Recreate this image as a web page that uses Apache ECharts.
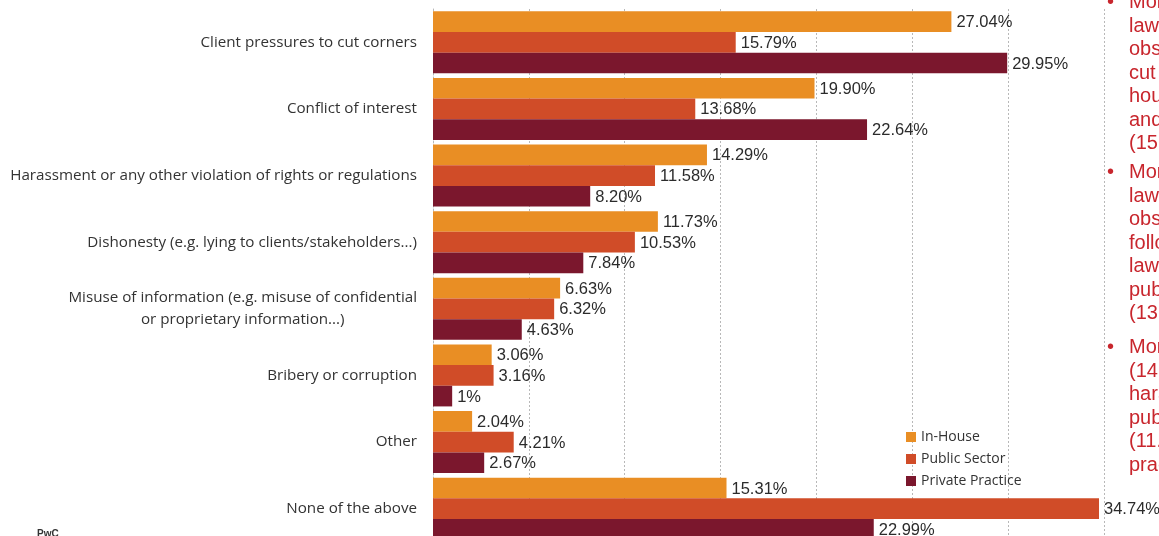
<!DOCTYPE html>
<html>
<head>
<meta charset="utf-8">
<script src="https://cdn.jsdelivr.net/npm/echarts@6/dist/echarts.min.js"></script>
<style>
  html, body { margin: 0; padding: 0; background: #ffffff; }
  #chart { width: 1159px; height: 536px; }
</style>
</head>
<body>
<div id="chart"></div>
<script>
// Ethical issues observed, by sector (% of respondents)
const categories = [
  'Client pressures to cut corners',
  'Conflict of interest',
  'Harassment or any other violation of rights or regulations',
  'Dishonesty (e.g. lying to clients/stakeholders...)',
  'Misuse of information (e.g. misuse of confidential\nor proprietary information...)',
  'Bribery or corruption',
  'Other',
  'None of the above'
];
const seriesNames = ['In-House', 'Public Sector', 'Private Practice'];
const inHouse       = ['27.04', '19.90', '14.29', '11.73', '6.63', '3.06', '2.04', '15.31'];
const publicSector  = ['15.79', '13.68', '11.58', '10.53', '6.32', '3.16', '4.21', '34.74'];
const privatePract  = ['29.95', '22.64', '8.20', '7.84', '4.63', '1', '2.67', '22.99'];
const colors = ['#E98E24', '#D04C28', '#7B172D'];
const xTicks = { min: 0, max: 35, step: 5 };

// Commentary panel on the right-hand side
const notes = [
  ['More private practice', 'lawyers (29.95%)', 'observed client pressures to', 'cut corners than in-', 'house lawyers (27.04%)', 'and public sector lawyers', '(15.79%)'],
  ['More private practice', 'lawyers (22.64%)', 'observed conflicts of interest,', 'followed by in-house', 'lawyers (19.90%) and', 'public sector lawyers', '(13.68%)'],
  ['More in-house lawyers', '(14.29%) observed', 'harassment than those in', 'public sector', '(11.58%) and private', 'practice (8.20%)']
];

const allSeries = [inHouse, publicSector, privatePract];

const chart = echarts.init(document.getElementById('chart'), null, { renderer: 'canvas' });

const series = allSeries.map((vals, i) => ({
  name: seriesNames[i],
  type: 'bar',
  data: vals,
  barGap: '0%',
  barCategoryGap: '7%',
  itemStyle: { color: colors[i] },
  label: {
    show: true,
    position: 'right',
    distance: 5,
    offset: [0, 1],
    color: '#2b2b2b',
    fontFamily: '"Liberation Sans", Arial, sans-serif',
    fontSize: 16.5,
    formatter: p => vals[p.dataIndex] + '%'
  },
  emphasis: { disabled: true }
}));

// Bullet text blocks
const noteFont = '20px "Liberation Sans", Arial, sans-serif';
const graphics = [];
const noteTops = [-9, 161, 336];
notes.forEach((lines, b) => {
  graphics.push({
    type: 'text', left: 1107, top: noteTops[b],
    style: { text: '•', fill: '#C8262D', font: noteFont, lineHeight: 23.5 }
  });
  graphics.push({
    type: 'text', left: 1129, top: noteTops[b],
    style: {
      text: lines.join('\n'),
      fill: '#C8262D',
      font: noteFont,
      lineHeight: 23.5
    }
  });
});
graphics.push({
  type: 'text', left: 37, top: 529,
  style: { text: 'PwC', fill: '#333333', font: 'bold 10px "Liberation Sans", Arial, sans-serif' }
});

const labelFont = '"Open Sans", "Noto Sans", sans-serif';

chart.setOption({
  animation: false,
  backgroundColor: '#ffffff',
  grid: { left: 433, right: 55, top: 9, height: 533, outerBoundsMode: 'none', containLabel: false },
  legend: {
    data: seriesNames,
    orient: 'vertical',
    left: 901,
    top: 424,
    icon: 'rect',
    itemWidth: 10,
    itemHeight: 10,
    itemGap: 6,
    textStyle: {
      color: '#333333',
      fontFamily: labelFont,
      fontSize: 14,
      lineHeight: 16
    }
  },
  xAxis: {
    type: 'value',
    min: xTicks.min,
    max: xTicks.max,
    interval: xTicks.step,
    axisLabel: { show: false },
    axisLine: { show: false },
    axisTick: { show: false },
    splitLine: { show: true, lineStyle: { color: '#b8b8b8', type: [2, 2], width: 1 } }
  },
  yAxis: {
    type: 'category',
    data: categories,
    inverse: true,
    axisTick: { show: false },
    axisLine: { show: true, lineStyle: { color: '#b8b8b8', type: [2, 2], width: 1 } },
    axisLabel: {
      margin: 16,
      color: '#333333',
      fontFamily: labelFont,
      fontSize: 15.2,
      lineHeight: 22,
      formatter: v => v.split('\n').map(s => '{c|' + s + '}').join('\n'),
      rich: { c: { align: 'center', fontSize: 15.2, lineHeight: 22, color: '#333333', fontFamily: labelFont } }
    }
  },
  series: series,
  graphic: graphics
});
</script>
</body>
</html>
